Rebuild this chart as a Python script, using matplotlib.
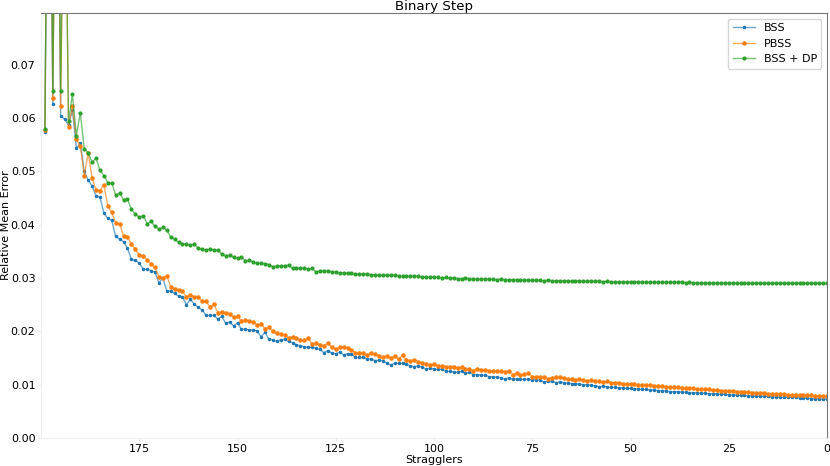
import numpy as np
import matplotlib
matplotlib.use("Agg")
import matplotlib.pyplot as plt
from matplotlib.colors import to_rgba

plt.rcParams["font.size"] = 8

# x positions: number of stragglers, from 199 down to 0
stragglers = np.arange(199, -1, -1)

# rows of ten values, s = 199..190, 189..180, ... 9..0
bss = [
    0.0574, 0.15, 0.0627, 0.15, 0.0604, 0.0598, 0.0587, 0.0615, 0.0543, 0.0553,
    0.0500, 0.0484, 0.0473, 0.0454, 0.0452, 0.0422, 0.0412, 0.0408, 0.0378, 0.0373,
    0.0368, 0.0356, 0.0335, 0.0333, 0.0328, 0.0317, 0.0316, 0.0314, 0.0311, 0.0291,
    0.0300, 0.0276, 0.0276, 0.0271, 0.0266, 0.0265, 0.0250, 0.0260, 0.0251, 0.0245,
    0.0240, 0.0230, 0.0230, 0.0230, 0.0223, 0.0228, 0.0215, 0.0218, 0.0210, 0.0216,
    0.0204, 0.0204, 0.0203, 0.0203, 0.0200, 0.0190, 0.0198, 0.0185, 0.0184, 0.0181,
    0.0184, 0.0185, 0.0181, 0.0179, 0.0175, 0.0173, 0.0171, 0.0170, 0.0171, 0.0168,
    0.0166, 0.0160, 0.0164, 0.0159, 0.0158, 0.0161, 0.0156, 0.0158, 0.0158, 0.0151,
    0.0151, 0.0151, 0.0148, 0.0148, 0.0145, 0.0146, 0.0145, 0.0140, 0.0137, 0.0140,
    0.0140, 0.0140, 0.0139, 0.0135, 0.0134, 0.0135, 0.0133, 0.0129, 0.0131, 0.0129,
    0.0129, 0.0129, 0.0125, 0.0125, 0.0124, 0.0123, 0.0125, 0.0121, 0.0123, 0.0119,
    0.0119, 0.0118, 0.0118, 0.0115, 0.0115, 0.0114, 0.0113, 0.0110, 0.0113, 0.0110,
    0.0111, 0.0110, 0.0110, 0.0110, 0.0109, 0.0109, 0.0108, 0.0105, 0.0106, 0.0106,
    0.0104, 0.0105, 0.0104, 0.0103, 0.0102, 0.0102, 0.0101, 0.0100, 0.0100, 0.0099,
    0.0098, 0.0096, 0.0097, 0.0096, 0.0095, 0.0095, 0.0094, 0.0094, 0.0093, 0.0093,
    0.0092, 0.0092, 0.0091, 0.0091, 0.0090, 0.0090, 0.0089, 0.0089, 0.0088, 0.0087,
    0.0087, 0.0087, 0.0086, 0.0086, 0.0085, 0.0085, 0.0085, 0.0084, 0.0084, 0.0083,
    0.0083, 0.0083, 0.0082, 0.0082, 0.0081, 0.0081, 0.0081, 0.0080, 0.0080, 0.0079,
    0.0079, 0.0079, 0.0078, 0.0078, 0.0078, 0.0077, 0.0077, 0.0077, 0.0076, 0.0076,
    0.0076, 0.0076, 0.0075, 0.0075, 0.0075, 0.0074, 0.0074, 0.0073, 0.0073, 0.0073,
]

pbss = [
    0.0577, 0.15, 0.0637, 0.14, 0.0622, 0.12, 0.0584, 0.0622, 0.0560, 0.0548,
    0.0492, 0.0534, 0.0488, 0.0465, 0.0464, 0.0475, 0.0435, 0.0423, 0.0403, 0.0402,
    0.0378, 0.0377, 0.0364, 0.0354, 0.0343, 0.0342, 0.0334, 0.0326, 0.0320, 0.0302,
    0.0300, 0.0304, 0.0284, 0.0280, 0.0278, 0.0276, 0.0264, 0.0269, 0.0264, 0.0265,
    0.0256, 0.0256, 0.0246, 0.0251, 0.0235, 0.0237, 0.0234, 0.0233, 0.0226, 0.0228,
    0.0220, 0.0221, 0.0220, 0.0218, 0.0212, 0.0214, 0.0205, 0.0208, 0.0200, 0.0196,
    0.0195, 0.0193, 0.0187, 0.0189, 0.0187, 0.0184, 0.0183, 0.0187, 0.0176, 0.0178,
    0.0175, 0.0173, 0.0178, 0.0170, 0.0166, 0.0170, 0.0170, 0.0168, 0.0165, 0.0160,
    0.0159, 0.0159, 0.0156, 0.0159, 0.0158, 0.0154, 0.0151, 0.0153, 0.0150, 0.0154,
    0.0148, 0.0155, 0.0146, 0.0145, 0.0146, 0.0143, 0.0141, 0.0139, 0.0137, 0.0138,
    0.0135, 0.0135, 0.0134, 0.0134, 0.0134, 0.0131, 0.0133, 0.0129, 0.0129, 0.0126,
    0.0129, 0.0128, 0.0128, 0.0126, 0.0125, 0.0125, 0.0125, 0.0124, 0.0125, 0.0119,
    0.0121, 0.0118, 0.0120, 0.0121, 0.0115, 0.0115, 0.0115, 0.0114, 0.0111, 0.0113,
    0.0114, 0.0114, 0.0113, 0.0110, 0.0110, 0.0109, 0.0110, 0.0108, 0.0107, 0.0108,
    0.0106, 0.0106, 0.0105, 0.0106, 0.0104, 0.0103, 0.0104, 0.0102, 0.0102, 0.0101,
    0.0102, 0.0100, 0.0100, 0.0099, 0.0100, 0.0098, 0.0097, 0.0098, 0.0096, 0.0096,
    0.0095, 0.0096, 0.0094, 0.0093, 0.0094, 0.0093, 0.0092, 0.0092, 0.0091, 0.0091,
    0.0090, 0.0090, 0.0089, 0.0089, 0.0088, 0.0088, 0.0087, 0.0087, 0.0086, 0.0086,
    0.0085, 0.0085, 0.0084, 0.0085, 0.0083, 0.0083, 0.0082, 0.0083, 0.0082, 0.0081,
    0.0081, 0.0081, 0.0080, 0.0080, 0.0080, 0.0080, 0.0079, 0.0079, 0.0079, 0.0079,
]

bss_dp = [
    0.0580, 0.15, 0.0650, 0.14, 0.0650, 0.12, 0.0594, 0.0645, 0.0567, 0.0610,
    0.0542, 0.0535, 0.0517, 0.0525, 0.0502, 0.0492, 0.0479, 0.0478, 0.0456, 0.0459,
    0.0447, 0.0448, 0.0429, 0.0420, 0.0414, 0.0417, 0.0402, 0.0406, 0.0397, 0.0392,
    0.0395, 0.0390, 0.0377, 0.0373, 0.0367, 0.0364, 0.0363, 0.0362, 0.0363, 0.0356,
    0.0354, 0.0353, 0.0354, 0.0353, 0.0353, 0.0345, 0.0342, 0.0343, 0.0339, 0.0337,
    0.0339, 0.0332, 0.0334, 0.0330, 0.0328, 0.0328, 0.0327, 0.0325, 0.0321, 0.0323,
    0.0323, 0.0323, 0.0324, 0.0318, 0.0318, 0.0319, 0.0319, 0.0317, 0.0318, 0.0311,
    0.0314, 0.0314, 0.0313, 0.0312, 0.0311, 0.0310, 0.0310, 0.0309, 0.0309, 0.0308,
    0.0308, 0.0308, 0.0308, 0.0306, 0.0306, 0.0305, 0.0305, 0.0305, 0.0305, 0.0305,
    0.0304, 0.0304, 0.0303, 0.0304, 0.0303, 0.0303, 0.0302, 0.0301, 0.0302, 0.0301,
    0.0302, 0.0300, 0.0301, 0.0300, 0.0300, 0.0299, 0.0299, 0.0300, 0.0299, 0.0299,
    0.0298, 0.0299, 0.0298, 0.0298, 0.0298, 0.0297, 0.0298, 0.0297, 0.0297, 0.0297,
    0.0297, 0.0296, 0.0297, 0.0296, 0.0296, 0.0296, 0.0296, 0.0295, 0.0296, 0.0295,
    0.0295, 0.0295, 0.0295, 0.0295, 0.0294, 0.0295, 0.0294, 0.0294, 0.0294, 0.0294,
    0.0294, 0.0294, 0.0293, 0.0294, 0.0293, 0.0293, 0.0293, 0.0293, 0.0293, 0.0293,
    0.0293, 0.0292, 0.0293, 0.0292, 0.0292, 0.0292, 0.0292, 0.0292, 0.0292, 0.0292,
    0.0292, 0.0292, 0.0292, 0.0291, 0.0292, 0.0291, 0.0291, 0.0291, 0.0291, 0.0291,
    0.0291, 0.0291, 0.0291, 0.0291, 0.0291, 0.0291, 0.0291, 0.0290, 0.0291, 0.0290,
    0.0290, 0.0291, 0.0290, 0.0290, 0.0290, 0.0290, 0.0290, 0.0290, 0.0290, 0.0290,
    0.0290, 0.0290, 0.0290, 0.0290, 0.0290, 0.0290, 0.0290, 0.0290, 0.0290, 0.0290,
]

series = [("BSS", bss, "#1f77b4", 3.0), ("PBSS", pbss, "#ff7f0e", 4.5), ("BSS + DP", bss_dp, "#2ca02c", 4.0)]

fig = plt.figure(figsize=(8.3, 4.66), dpi=100)
ax = fig.add_axes([0.0494, 0.0601, 0.9470, 0.9120])

for name, vals, col, ms in series:
    ax.plot(stragglers, vals, marker=".", markersize=ms, linewidth=1.0,
            color=to_rgba(col, 0.65), markerfacecolor=col, markeredgecolor=col,
            label=name)

ax.set_xlim(200, 0)
ax.set_ylim(0, 0.0797)
ax.set_xticks([175, 150, 125, 100, 75, 50, 25, 0])
ax.set_yticks([0.0, 0.01, 0.02, 0.03, 0.04, 0.05, 0.06, 0.07])
ax.set_yticklabels(["0.00", "0.01", "0.02", "0.03", "0.04", "0.05", "0.06", "0.07"])
ax.tick_params(labelsize=8, length=2, color="#e8e8e8", pad=2)

ax.spines["top"].set_color("#777777")
ax.spines["right"].set_color("#777777")
ax.spines["left"].set_color("#eeeeee")
ax.spines["bottom"].set_color("#eeeeee")

ax.set_title("Binary Step", fontsize=9.6, pad=2)
ax.set_xlabel("Stragglers", fontsize=8, labelpad=1)
ax.set_ylabel("Relative Mean Error", fontsize=8)
# pull the y label in so it is not clipped at the left edge
ax.yaxis.set_label_coords(-0.0385, 0.5)
ax.legend(loc="upper right", fontsize=8, framealpha=0.8)

fig.savefig("out.png", dpi=100)
